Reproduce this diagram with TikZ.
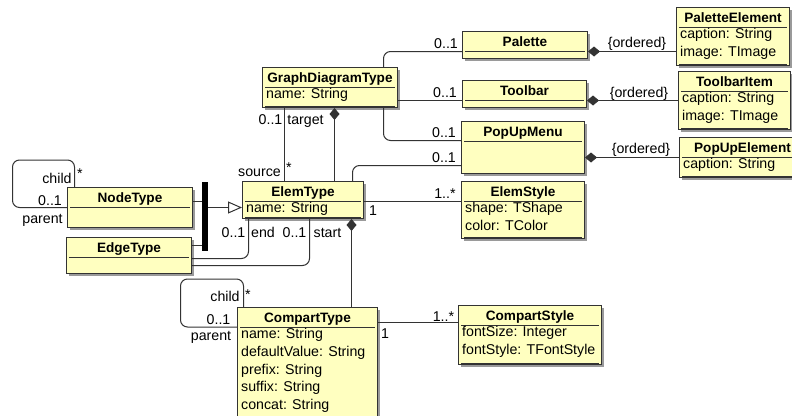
\documentclass[tikz,border=0pt]{standalone}
\usepackage{fontspec}
\setmainfont{Liberation Sans}
\usetikzlibrary{arrows.meta,positioning,calc,shadows}
\definecolor{UMLfill}{HTML}{FFFFC0}
\definecolor{UMLline}{HTML}{333333}
\definecolor{UMLshadow}{HTML}{9A9A9A}

\tikzset{
  classbox/.style={draw=UMLline, fill=UMLfill, line width=1pt, inner sep=0pt, anchor=north west,
    drop shadow={shadow xshift=2pt, shadow yshift=-2pt, fill=UMLshadow, opacity=1}},
  classtitle/.style={font=\fontsize{13.6}{16}\selectfont\bfseries, inner sep=0pt, anchor=base},
  classattr/.style={font=\fontsize{14.2}{17.7}\selectfont, align=left, inner sep=0pt, anchor=north west},
  sepline/.style={draw=UMLline, line width=1pt},
  assoc/.style={draw=UMLline, line width=1pt, rounded corners=7pt},
  comp/.style={assoc, {Diamond[length=12pt,width=10pt]}-},
  gen/.style={assoc, -{Triangle[open,fill=white,length=14pt,width=12pt]}},
  role/.style={font=\fontsize{14.2}{16}\selectfont, inner sep=0pt, anchor=base},
  star/.style={font=\fontsize{14.2}{16}\selectfont, inner sep=0pt},
}

% class box: name, top left, width, height, title, attributes
\newcommand{\umlclass}[6]{%
  \node[classbox, minimum width=#3, minimum height=#4] (#1) at (#2) {};
  \node[classtitle] (#1-title) at ($(#1.north)+(0,15)$) {#5};
  \draw[sepline] ($(#1.north west)+(3,20)$) -- ($(#1.north east)+(-3,20)$);
  \if\relax\detokenize{#6}\relax\else
    \node[classattr] (#1-attr) at ($(#1.north west)+(4,20.5)$) {\rule{0pt}{11pt}#6};
    \draw[sepline] ($(#1.south west)+(3,-2)$) -- ($(#1.south east)+(-3,-2)$);
  \fi
}

\begin{document}
\begin{tikzpicture}[x=1pt,y=-1pt]
  \useasboundingbox (0,0) rectangle (792,415);
  \fill[white] (0,0) rectangle (792,415);

  % classes
  \umlclass{gdt}{262,67}{135pt}{40pt}{GraphDiagramType}{name: String}
  \umlclass{palette}{462,31}{125pt}{27pt}{Palette}{}
  \umlclass{toolbar}{462,80}{124pt}{27pt}{Toolbar}{}
  \umlclass{popup}{461,121}{123pt}{52pt}{PopUpMenu}{}
  \umlclass{elemstyle}{461,181}{123pt}{57pt}{ElemStyle}{shape: TShape\\color: TColor}
  \umlclass{palelem}{676,7}{113pt}{58pt}{PaletteElement}{caption: String\\image: TImage}
  \umlclass{tbitem}{678,71}{112pt}{58pt}{ToolbarItem}{caption: String\\image: TImage}
  \umlclass{popelem}{679,137}{126pt}{40pt}{PopUpElement}{caption: String}
  \umlclass{elem}{242,181}{121pt}{37pt}{ElemType}{name: String}
  \umlclass{nodetype}{67,187}{125pt}{40pt}{NodeType}{}
  \umlclass{edgetype}{66,237}{125pt}{36pt}{EdgeType}{}
  \umlclass{compart}{237,307}{140pt}{120pt}{CompartType}{name: String\\defaultValue: String\\prefix: String\\suffix: String\\concat: String}
  \umlclass{cstyle}{458,305}{143pt}{59pt}{CompartStyle}{fontSize: Integer\\fontStyle: TFontStyle}

  \node[fill=black, minimum width=6pt, minimum height=69pt, inner sep=0pt] (genbar) at (205,216.5) {};

  % associations of GraphDiagramType
  \draw[assoc] ([xshift=53.5pt]gdt.north) |- ([yshift=-6.5pt]palette.west);
  \draw[assoc] ([yshift=-13pt]gdt.east) -- ([yshift=-6.5pt]toolbar.west);
  \draw[assoc] ([xshift=53.5pt]gdt.south) |- ([yshift=7pt]popup.west);
  \draw[assoc] ([xshift=49.5pt]elem.north) |- ([yshift=-18pt]popup.west);
  \draw[comp] ([yshift=-6.5pt]palette.east) -- ([yshift=-15pt]palelem.west);
  \draw[comp] ([yshift=-6.5pt]toolbar.east) -- (tbitem.west);
  \draw[comp] ([yshift=-10pt]popup.east) -- (popelem.west);
  \draw[comp] ([xshift=4.5pt]gdt.south) -- ([xshift=31.5pt]elem.north);
  \draw[assoc] ([xshift=-45.5pt]gdt.south) -- ([xshift=-18.5pt]elem.north);

  % ElemType
  \draw[assoc] ([yshift=-1.5pt]elem.east) -- ([yshift=8.5pt]elemstyle.west);
  \draw[comp] ([xshift=48.5pt]elem.south) -- ([xshift=44pt]compart.north);
  \draw[assoc] ([xshift=-54.5pt]elem.south) |- ([yshift=-3pt]edgetype.east);
  \draw[assoc] ([xshift=6.5pt]elem.south) |- ([yshift=-10pt]edgetype.east);
  \draw[assoc] ([yshift=-15pt]compart.north east) -- ([yshift=-17pt]cstyle.north west);

  % generalization
  \coordinate (ntout) at ([yshift=6pt]nodetype.east);
  \coordinate (etout) at ([yshift=10pt]edgetype.east);
  \coordinate (genin) at ([yshift=-7.5pt]elem.west);
  \draw[assoc] (ntout) -- (ntout -| genbar.west);
  \draw[assoc] (etout) -- (etout -| genbar.west);
  \draw[gen] (genin -| genbar.east) -- (genin);

  % self loops
  \draw[assoc] ([xshift=-55.5pt]nodetype.north) |- ++(-62,-27) |- (nodetype.west);
  \draw[assoc] ([xshift=-64pt]compart.north) |- ++(-63,-28) |- ([yshift=-20pt]compart.north west);

  % roles and multiplicities
  \node[role] (m-pal) at (446,48) {0..1};
  \node[role] (m-tb) at (445,97) {0..1};
  \node[role] (m-pop) at (444,137) {0..1};
  \node[role] (m-popb) at (444,162) {0..1};
  \node[role] (m-es) at (445,198) {1..*};
  \node[role] (m-cs) at (443.5,321) {1..*};
  \node[role] (m-c1) at (385,338) {1};
  \node[role] (m-e1) at (373,215) {1};
  \node[role] (m-gdt) at (270.5,124) {0..1};
  \node[role] (r-target) at (305.5,124) {target};
  \node[role] (r-source) at (259.5,176) {source};
  \node[star] (m-src) at (289,168) {*};
  \node[role] (r-nchild) at (57,183) {child};
  \node[star] (m-nchild) at (80,174) {*};
  \node[role] (m-nparent) at (50,205) {0..1};
  \node[role] (r-nparent) at (42.5,223) {parent};
  \node[role] (m-end) at (233.5,237) {0..1};
  \node[role] (r-end) at (263,237) {end};
  \node[role] (m-start) at (294.5,237) {0..1};
  \node[role] (r-start) at (327.5,237) {start};
  \node[role] (r-cchild) at (225,301) {child};
  \node[star] (m-cchild) at (248,295) {*};
  \node[role] (m-cparent) at (218.5,324) {0..1};
  \node[role] (r-cparent) at (211,340) {parent};
  \node[role] (o-pal) at (637,47) {\{ordered\}};
  \node[role] (o-tb) at (639,97) {\{ordered\}};
  \node[role] (o-pop) at (641,153) {\{ordered\}};
\end{tikzpicture}
\end{document}
